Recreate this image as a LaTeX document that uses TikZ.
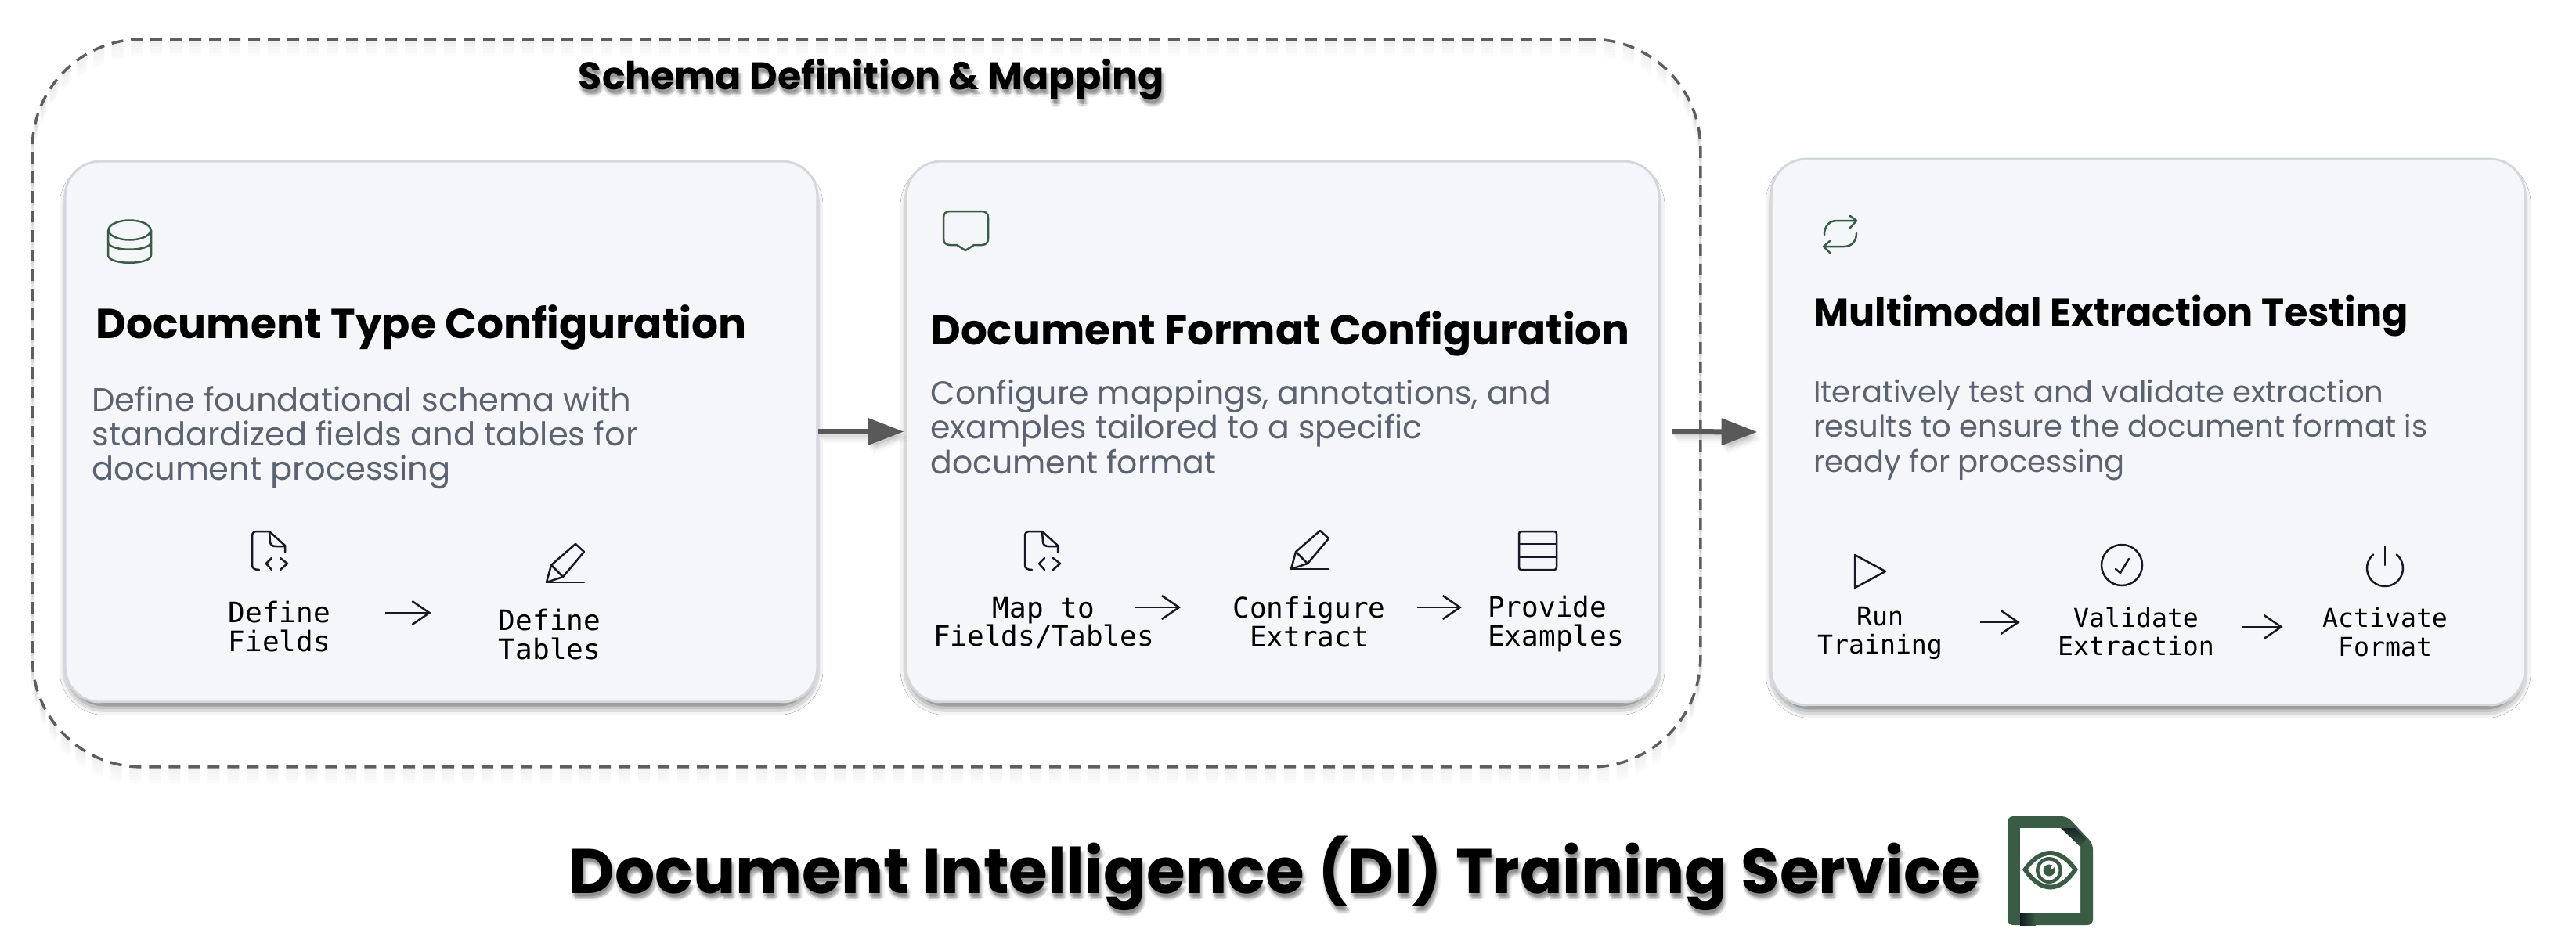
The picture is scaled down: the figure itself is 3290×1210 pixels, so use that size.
\documentclass[tikz,border=0pt]{standalone}
\usepackage{fontspec}
\setmainfont{Poppins}
\newfontfamily\descfont{Poppins}
\newfontfamily\headfont{Poppins}[UprightFont=*-Bold]
\newfontfamily\monofont{DejaVu Sans Mono}
\usetikzlibrary{arrows.meta,calc,shadows.blur,fadings}
\definecolor{cardfill}{HTML}{F4F6FA}
\definecolor{cardedge}{HTML}{D3D7DE}
\definecolor{descgrey}{HTML}{5B6270}
\definecolor{leaf}{HTML}{3A5C45}
\definecolor{inkdark}{HTML}{141A24}
\definecolor{arrowgrey}{HTML}{595959}
\definecolor{dashgrey}{HTML}{5E5E5E}
\tikzset{
  card/.style={draw=cardedge,line width=0.06cm,fill=cardfill,rounded corners=0.9cm,inner sep=0pt,
    blur shadow={shadow xshift=0cm,shadow yshift=-0.16cm,shadow blur radius=0.26cm,shadow opacity=75,shadow scale=0.988}},
  groupbox/.style={rounded corners=2.8cm,inner sep=0pt,minimum width=42.62cm,minimum height=18.6cm},
  dashline/.style={draw=dashgrey,line width=0.07cm,dash pattern=on 0.3cm off 0.2cm},
  cardtitle/.style={anchor=base west,inner sep=0pt,text=black},
  desc/.style={anchor=north west,inner sep=0pt,align=left,text=descgrey},
  steplabel/.style={inner sep=0pt,align=center,text=black,font=\monofont\fontsize{20.5}{21}\selectfont},
  steplabelsmall/.style={inner sep=0pt,align=center,text=black,font=\monofont\fontsize{18.9}{21}\selectfont},
  flow/.style={draw=arrowgrey,line width=0.14cm,-{Triangle[length=0.92cm,width=0.66cm,fill=arrowgrey]}},
  mini/.style={draw=inkdark,line width=0.05cm,-{Straight Barb[length=0.44cm,width=0.6cm,line width=0.05cm]}},
  iconink/.style={draw=inkdark,line width=0.05cm,line join=round,line cap=round},
  iconleaf/.style={draw=leaf,line width=0.05cm,line join=round,line cap=round},
}
\newcommand{\softtext}[4]{%
  \foreach \ox/\oy/\oo in {1/4/.10,3/6/.10,4/8/.08,0/8/.06,6/6/.06,2/10/.05,-1/5/.07}
    \node[#3,text opacity=\oo] at ($(#1,#2)+(\ox,\oy)$) {#4};
}
\newcommand{\docicon}[2]{\begin{scope}[shift={(#1,#2)}]
  \draw[iconink] (9,49) .. controls (3,49) and (0,47) .. (0,43) -- (0,6) .. controls (0,2) and (2,0) .. (6,0) -- (22,0) -- (42,18) -- (42,27);
  \draw[iconink] (22,0) -- (23,13) .. controls (23,17) and (26,19) .. (30,19) -- (42,19);
  \draw[iconink] (25,34) -- (18,41) -- (25,49);
  \draw[iconink] (36,34) -- (45,41) -- (36,49);
\end{scope}}
\newcommand{\penicon}[2]{\begin{scope}[shift={(#1,#2)}]
  \draw[iconink] (37,1) -- (48,11) -- (21,43) -- (6,28) -- cycle;
  \draw[iconink] (6,28) -- (0,50) -- (21,43);
  \draw[iconink] (0,50) -- (48,50);
\end{scope}}
\begin{document}
\begin{tikzpicture}[x=0.02cm,y=-0.02cm]
\useasboundingbox[fill=white] (0,0) rectangle (3290,1210);

% group box with its soft shadow
\foreach \oy/\oo in {4/.09,8/.07,12/.05,16/.04,20/.02}
  \node[groupbox,dashline,draw opacity=\oo] at (1106.5,515+\oy) {};
\node[groupbox,dashline] (group) at (1106.5,515) {};
\softtext{1113}{102}{inner sep=0pt,font=\headfont\fontsize{27.9}{34}\selectfont}{Schema Definition \& Mapping}
\node[inner sep=0pt,font=\headfont\fontsize{27.9}{34}\selectfont,text=black] (grouptitle) at (1113,102) {Schema Definition \& Mapping};

% cards
\node[card,minimum width=19.22cm,minimum height=13.82cm] (c1) at (563.5,551.5) {};
\node[card,minimum width=19.24cm,minimum height=13.82cm] (c2) at (1638,551.5) {};
\node[card,minimum width=19.26cm,minimum height=13.96cm] (c3) at (2743.5,552) {};

% flow arrows
\foreach \ox/\oy/\oo in {2/3/.10,4/6/.07,6/8/.05,7/11/.03}{
  \draw[flow,opacity=\oo,shorten >=0.02cm] ($(c1.east)+(\ox,\oy)$) -- ($(c2.west)+(\ox,\oy)$);
  \draw[flow,opacity=\oo,shorten <=0.3cm,shorten >=0.32cm] ($(c2.east)+(\ox,\oy)$) -- ($(c3.west)+(\ox,\oy)$);
}
\draw[flow,shorten >=0.02cm] (c1.east) -- (c2.west);
\draw[flow,shorten <=0.3cm,shorten >=0.32cm] (c2.east) -- (c3.west);

% card 1
\draw[iconleaf] (165.5,294) ellipse [x radius=27,y radius=12.5];
\draw[iconleaf] (138,294) -- (138,326) .. controls (138,339) and (193,339) .. (193,326) -- (193,294);
\draw[iconleaf] (138,309) .. controls (138,322) and (193,322) .. (193,309);
\node[cardtitle,font=\headfont\fontsize{30.45}{36}\selectfont] (t1) at (122,432) {Document Type Configuration};
\node[desc,font=\descfont\fontsize{23.7}{25.2}\selectfont] (d1) at (117,493) {Define foundational schema with\\standardized fields and tables for\\document processing};
\docicon{322}{679}
\penicon{698}{694}
\node[steplabel] (s11) at (357,801) {Define\\Fields};
\node[steplabel] (s12) at (702,811) {Define\\Tables};
\coordinate (r11) at (0,783);
\draw[mini,shorten <=1.4cm,shorten >=1.72cm] (s11.east |- r11) -- (s12.west |- r11);

% card 2
\draw[iconleaf] (1233,320) -- (1222,313) -- (1213,313) .. controls (1208,313) and (1205,310) .. (1205,305) -- (1205,278) .. controls (1205,273) and (1208,270) .. (1213,270) -- (1254,270) .. controls (1259,270) and (1262,273) .. (1262,278) -- (1262,305) .. controls (1262,310) and (1259,313) .. (1254,313) -- (1244,313) -- cycle;
\node[cardtitle,font=\headfont\fontsize{30.3}{36}\selectfont] (t2) at (1188,440) {Document Format Configuration};
\node[desc,font=\descfont\fontsize{23.35}{25.2}\selectfont] (d2) at (1188,485) {Configure mappings, annotations, and\\examples tailored to a specific\\document format};
\docicon{1309}{679}
\penicon{1649}{677}
\draw[iconink,rounded corners=0.06cm] (1940,679) rectangle (1988,728);
\draw[iconink] (1940,695) -- (1988,695) (1940,712) -- (1988,712);
\node[steplabel] (s21) at (1333,796) {Map to\\Fields/Tables};
\node[steplabel] (s22) at (1672,795) {Configure\\Extract};
\node[steplabel,align=left] (s23) at (1987,797) {Provide\\Examples};
\coordinate (r21) at (0,776);
\draw[mini,shorten <=-0.48cm,shorten >=1.32cm] (s21.east |- r21) -- (s22.west |- r21);
\draw[mini,shorten <=0.8cm,shorten >=0.66cm] (s22.east |- r21) -- (s23.west |- r21);

% card 3
\draw[iconleaf] (2330,300) .. controls (2330,289) and (2336,282) .. (2346,282) -- (2371,282);
\draw[iconleaf] (2363,276) -- (2371,282) -- (2363,291);
\draw[iconleaf] (2371,298) .. controls (2371,308) and (2365,315) .. (2355,315) -- (2329,315);
\draw[iconleaf] (2337,308) -- (2329,315) -- (2337,323);
\node[cardtitle,font=\headfont\fontsize{28}{36}\selectfont] (t3) at (2316,416) {Multimodal Extraction Testing};
\node[desc,font=\descfont\fontsize{21.95}{25.2}\selectfont] (d3) at (2316,485) {Iteratively test and validate extraction\\results to ensure the document format is\\ready for processing};
\draw[iconink] (2369,709) -- (2408,730) -- (2369,751) -- cycle;
\draw[iconink] (2710,722) circle [radius=26];
\draw[iconink] (2702,727) -- (2708,732) -- (2719,714);
\draw[iconink] (3046,698) -- (3046,722);
\draw[iconink] (3060.8,708.4) arc [start angle=-50,end angle=230,radius=23];
\node[steplabelsmall] (s31) at (2401,809) {Run~\\Training};
\node[steplabelsmall] (s32) at (2728,807) {Validate\\Extraction};
\node[steplabelsmall] (s33) at (3046,808) {Activate\\Format};
\coordinate (r31) at (0,795);
\coordinate (r32) at (0,801);
\draw[mini,shorten <=0.96cm,shorten >=0.96cm] (s31.east |- r31) -- (s32.west |- r31);
\draw[mini,shorten <=0.72cm,shorten >=1cm] (s32.east |- r32) -- (s33.west |- r32);

% main title
\softtext{1628}{1116}{inner sep=0pt,font=\headfont\fontsize{45.8}{55}\selectfont}{Document Intelligence (DI) Training Service}
\node[inner sep=0pt,font=\headfont\fontsize{45.8}{55}\selectfont,text=black] (main) at (1628,1116) {Document Intelligence (DI) Training Service};

% document-with-eye icon
\fill[leaf,rounded corners=0.14cm] (2564,1043) -- (2640,1043) -- (2673,1078) -- (2673,1182) -- (2564,1182) -- cycle;
\fill[white] (2580,1058) -- (2632,1058) -- (2657,1082) -- (2657,1166) -- (2580,1166) -- cycle;
\shade[left color=inkdark,right color=leaf] (2580,1166) rectangle (2600,1182);
\shade[shading angle=45,top color=inkdark,bottom color=leaf,opacity=.85] (2632,1058) -- (2650,1058) -- (2664,1072) -- (2657,1082) -- cycle;
\fill[leaf] (2583,1111) .. controls (2605,1079) and (2632,1079) .. (2654,1111) .. controls (2632,1145) and (2605,1145) .. (2583,1111) -- cycle;
\fill[white] (2590,1111) .. controls (2608,1087) and (2629,1087) .. (2647,1111) .. controls (2629,1137) and (2608,1137) .. (2590,1111) -- cycle;
\fill[leaf] (2617,1112) circle [radius=17];
\fill[white] (2617,1112) circle [radius=12.5];
\fill[leaf] (2617,1112) circle [radius=7.5];
\fill[white] (2621,1108) circle [radius=2];
\end{tikzpicture}
\end{document}
